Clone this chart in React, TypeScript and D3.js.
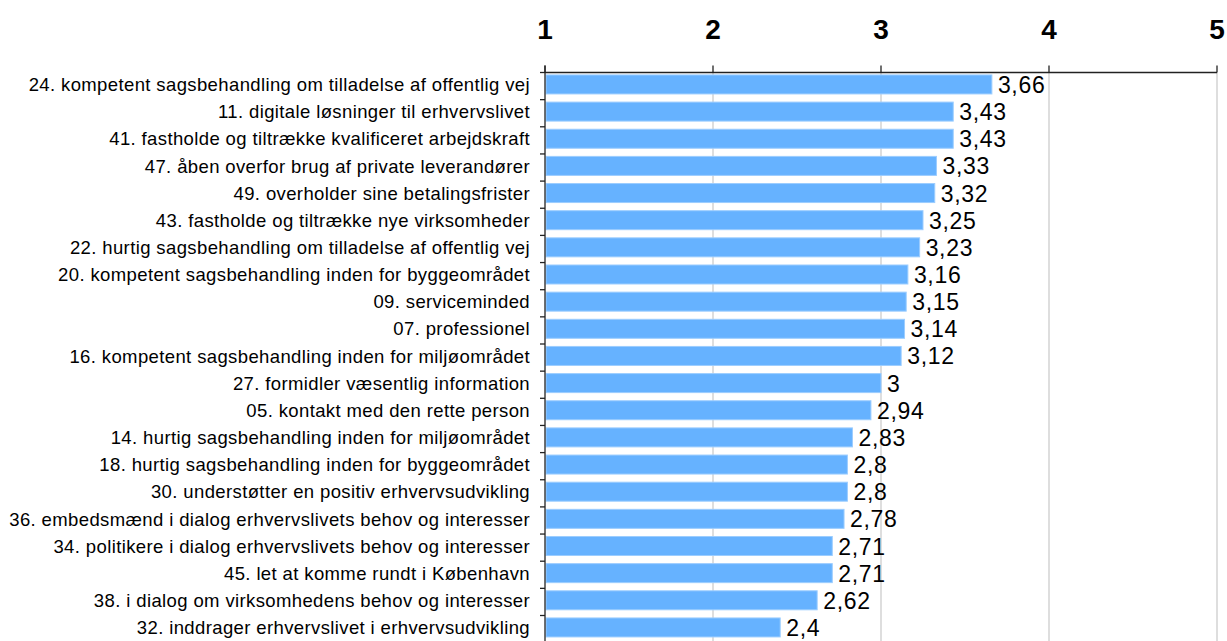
import React from "react";
import * as d3 from "d3";

const categories: string[] = [
  "24. kompetent sagsbehandling om tilladelse af offentlig vej",
  "11. digitale løsninger til erhvervslivet",
  "41. fastholde og tiltrække kvalificeret arbejdskraft",
  "47. åben overfor brug af private leverandører",
  "49. overholder sine betalingsfrister",
  "43. fastholde og tiltrække nye virksomheder",
  "22. hurtig sagsbehandling om tilladelse af offentlig vej",
  "20. kompetent sagsbehandling inden for byggeområdet",
  "09. serviceminded",
  "07. professionel",
  "16. kompetent sagsbehandling inden for miljøområdet",
  "27. formidler væsentlig information",
  "05. kontakt med den rette person",
  "14. hurtig sagsbehandling inden for miljøområdet",
  "18. hurtig sagsbehandling inden for byggeområdet",
  "30. understøtter en positiv erhvervsudvikling",
  "36. embedsmænd i dialog erhvervslivets behov og interesser",
  "34. politikere i dialog erhvervslivets behov og interesser",
  "45. let at komme rundt i København",
  "38. i dialog om virksomhedens behov og interesser",
  "32. inddrager erhvervslivet i erhvervsudvikling",
];

const values: number[] = [
  3.66, 3.43, 3.43, 3.33, 3.32, 3.25, 3.23, 3.16, 3.15, 3.14, 3.12, 3,
  2.94, 2.83, 2.8, 2.8, 2.78, 2.71, 2.71, 2.62, 2.4,
];

const xTicks: number[] = [1, 2, 3, 4, 5];

const W = 1227;
const H = 641;
const left = 545;
const right = 1217;
const top = 72.5;
const step = 27.15;

const fmt = (v: number) => String(+v.toFixed(2)).replace(".", ",");

export default function App() {
  const x = d3.scaleLinear().domain([1, 5]).range([left, right]);
  const y = d3
    .scaleBand<string>()
    .domain(categories)
    .range([top, top + step * categories.length])
    .paddingInner(0.3)
    .paddingOuter(0.15)
    .align(0.3);
  const bh = y.bandwidth();
  const font = "'Liberation Sans', Arial, sans-serif";

  return (
    <svg
      width={W}
      height={H}
      style={{ position: "absolute", left: 0, top: 0, background: "#fff" }}
      fontFamily={font}
    >
      {/* gridlines */}
      {xTicks.slice(1).map((t) => (
        <line
          key={"g" + t}
          x1={x(t)}
          x2={x(t)}
          y1={top}
          y2={H}
          stroke="#c8c8c8"
          strokeWidth={1.2}
        />
      ))}
      {/* bars */}
      {values.map((v, i) => (
        <rect
          key={"b" + i}
          x={x(1) + 1}
          y={y(categories[i])!}
          width={x(v) - x(1) - 1}
          height={bh}
          fill="#66b2ff"
          stroke="#9ccdff"
          strokeWidth={1}
        />
      ))}
      {/* top axis */}
      <line x1={x(1)} x2={x(5)} y1={top} y2={top} stroke="#222" strokeWidth={1.3} />
      {xTicks.map((t) => (
        <g key={"t" + t}>
          <line x1={x(t)} x2={x(t)} y1={top - 7} y2={top} stroke="#222" strokeWidth={1.3} />
          <text
            x={x(t)}
            y={39}
            textAnchor="middle"
            fontSize={28}
            fontWeight="bold"
            fill="#000"
          >
            {t}
          </text>
        </g>
      ))}
      {/* left axis */}
      <line x1={x(1)} x2={x(1)} y1={top - 7} y2={H} stroke="#222" strokeWidth={1.3} />
      {categories.map((c, i) => (
        <line
          key={"lt" + i}
          x1={x(1) - 5}
          x2={x(1)}
          y1={top + step * i}
          y2={top + step * i}
          stroke="#222"
          strokeWidth={1.3}
        />
      ))}
      {/* category labels */}
      {categories.map((c, i) => (
        <text
          key={"c" + i}
          x={530}
          y={y(c)! + bh / 2}
          dy="0.36em"
          textAnchor="end"
          fontSize={18.5}
          letterSpacing={0.38}
          fill="#000"
        >
          {c}
        </text>
      ))}
      {/* value labels */}
      {values.map((v, i) => (
        <text
          key={"v" + i}
          x={x(v) + 6}
          y={y(categories[i])! + bh / 2}
          dy="0.37em"
          fontSize={23}
          letterSpacing={0.7}
          fill="#000"
        >
          {fmt(v)}
        </text>
      ))}
    </svg>
  );
}
